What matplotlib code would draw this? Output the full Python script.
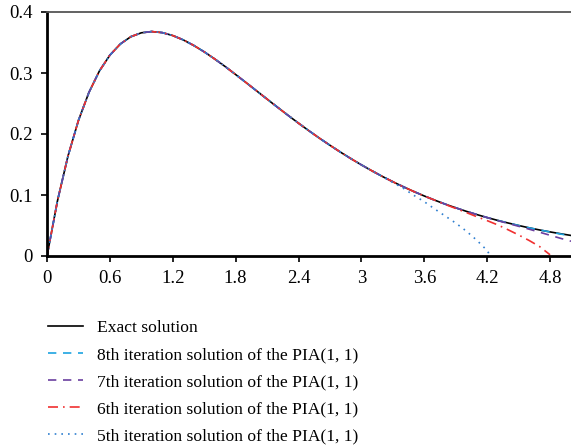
import matplotlib

matplotlib.use("Agg")

import matplotlib.pyplot as plt

plt.rcParams["font.family"] = ["Liberation Serif", "DejaVu Serif"]

# values
x_vals = [0.0, 0.1, 0.2, 0.3, 0.4, 0.5, 0.6, 0.7, 0.8, 0.9,
          1.0, 1.1, 1.2, 1.3, 1.4, 1.5, 1.6, 1.7, 1.8, 1.9,
          2.0, 2.1, 2.2, 2.3, 2.4, 2.5, 2.6, 2.7, 2.8, 2.9,
          3.0, 3.1, 3.2, 3.3, 3.4, 3.5, 3.6, 3.7, 3.8, 3.9,
          4.0, 4.1, 4.2, 4.3, 4.4, 4.5, 4.6, 4.7, 4.8, 4.9, 5.0]
exact = [0.0, 0.0905, 0.1637, 0.2222, 0.2681, 0.3033, 0.3293, 0.3476, 0.3595, 0.3659,
         0.3679, 0.3662, 0.3614, 0.3543, 0.3452, 0.3347, 0.3230, 0.3106, 0.2975, 0.2842,
         0.2707, 0.2572, 0.2438, 0.2306, 0.2177, 0.2052, 0.1931, 0.1815, 0.1703, 0.1596,
         0.1494, 0.1397, 0.1304, 0.1217, 0.1135, 0.1057, 0.0984, 0.0915, 0.0850, 0.0790,
         0.0733, 0.0680, 0.0630, 0.0584, 0.0541, 0.0500, 0.0462, 0.0427, 0.0395, 0.0365, 0.0337]

# iteration curves: same as exact up to a point, then their own tails
tail8 = [0.0360, 0.0331]  # x = 4.9 .. 5.0
tail7 = [0.0580, 0.0534, 0.0487, 0.0440, 0.0390, 0.0340, 0.0290, 0.0242]  # x = 4.3 .. 5.0
tail6_x = [3.8, 3.9, 4.0, 4.1, 4.2, 4.3, 4.4, 4.5, 4.6, 4.7, 4.8]
tail6 = [0.0845, 0.0780, 0.0713, 0.0645, 0.0580, 0.0510, 0.0430, 0.0345, 0.0255, 0.0155, 0.0020]
tail5_x = [3.3, 3.4, 3.5, 3.6, 3.7, 3.8, 3.9, 4.0, 4.1, 4.2, 4.23]
tail5 = [0.1205, 0.1110, 0.0995, 0.0890, 0.0770, 0.0655, 0.0540, 0.0410, 0.0260, 0.0090, 0.0]

x8, y8 = x_vals, exact[:49] + tail8
x7, y7 = x_vals, exact[:43] + tail7
x6, y6 = x_vals[:38] + tail6_x, exact[:38] + tail6
x5, y5 = x_vals[:33] + tail5_x, exact[:33] + tail5

labels = [
    "Exact solution",
    "8th iteration solution of the PIA(1, 1)",
    "7th iteration solution of the PIA(1, 1)",
    "6th iteration solution of the PIA(1, 1)",
    "5th iteration solution of the PIA(1, 1)",
]

fig = plt.figure(figsize=(5.71, 4.48), dpi=100)
ax = fig.add_axes([47 / 571, 1 - 256 / 448, 1 - 47 / 571, 244 / 448])

l0, = ax.plot(x_vals, exact, color="black", lw=1.2, label=labels[0])
l8, = ax.plot(x8, y8, color="#1ca3e0", lw=1.2, ls=(0, (5, 4)), label=labels[1])
l7, = ax.plot(x7, y7, color="#6b3fa0", lw=1.2, ls=(0, (5, 4)), label=labels[2])
l6, = ax.plot(x6, y6, color="#f03030", lw=1.2, ls=(0, (6, 3, 1, 3)), label=labels[3])
l5, = ax.plot(x5, y5, color="#2f7fd0", lw=1.2, ls=(0, (1, 3)), label=labels[4])

ax.set_xlim(0, 5)
ax.set_ylim(0, 0.4)
ax.set_xticks([0, 0.6, 1.2, 1.8, 2.4, 3, 3.6, 4.2, 4.8])
ax.set_xticklabels(["0", "0.6", "1.2", "1.8", "2.4", "3", "3.6", "4.2", "4.8"])
ax.set_yticks([0, 0.1, 0.2, 0.3, 0.4])
ax.set_yticklabels(["0", "0.1", "0.2", "0.3", "0.4"])
ax.tick_params(direction="out", length=4, width=1.2, labelsize=13.5)
ax.tick_params(axis="x", pad=6)
ax.tick_params(axis="y", pad=6)

for side in ("left", "bottom"):
    ax.spines[side].set_linewidth(2)
    ax.spines[side].set_color("black")
ax.spines["top"].set_linewidth(1.3)
ax.spines["top"].set_color("#555555")
ax.spines["right"].set_visible(False)

fig.legend(
    handles=[l0, l8, l7, l6, l5],
    loc="upper left",
    bbox_to_anchor=(32 / 571, 1 - 304 / 448),
    frameon=False,
    fontsize=12.6,
    handlelength=2.0,
    handletextpad=0.8,
    labelspacing=0.62,
)

fig.savefig("out.png", dpi=100)
